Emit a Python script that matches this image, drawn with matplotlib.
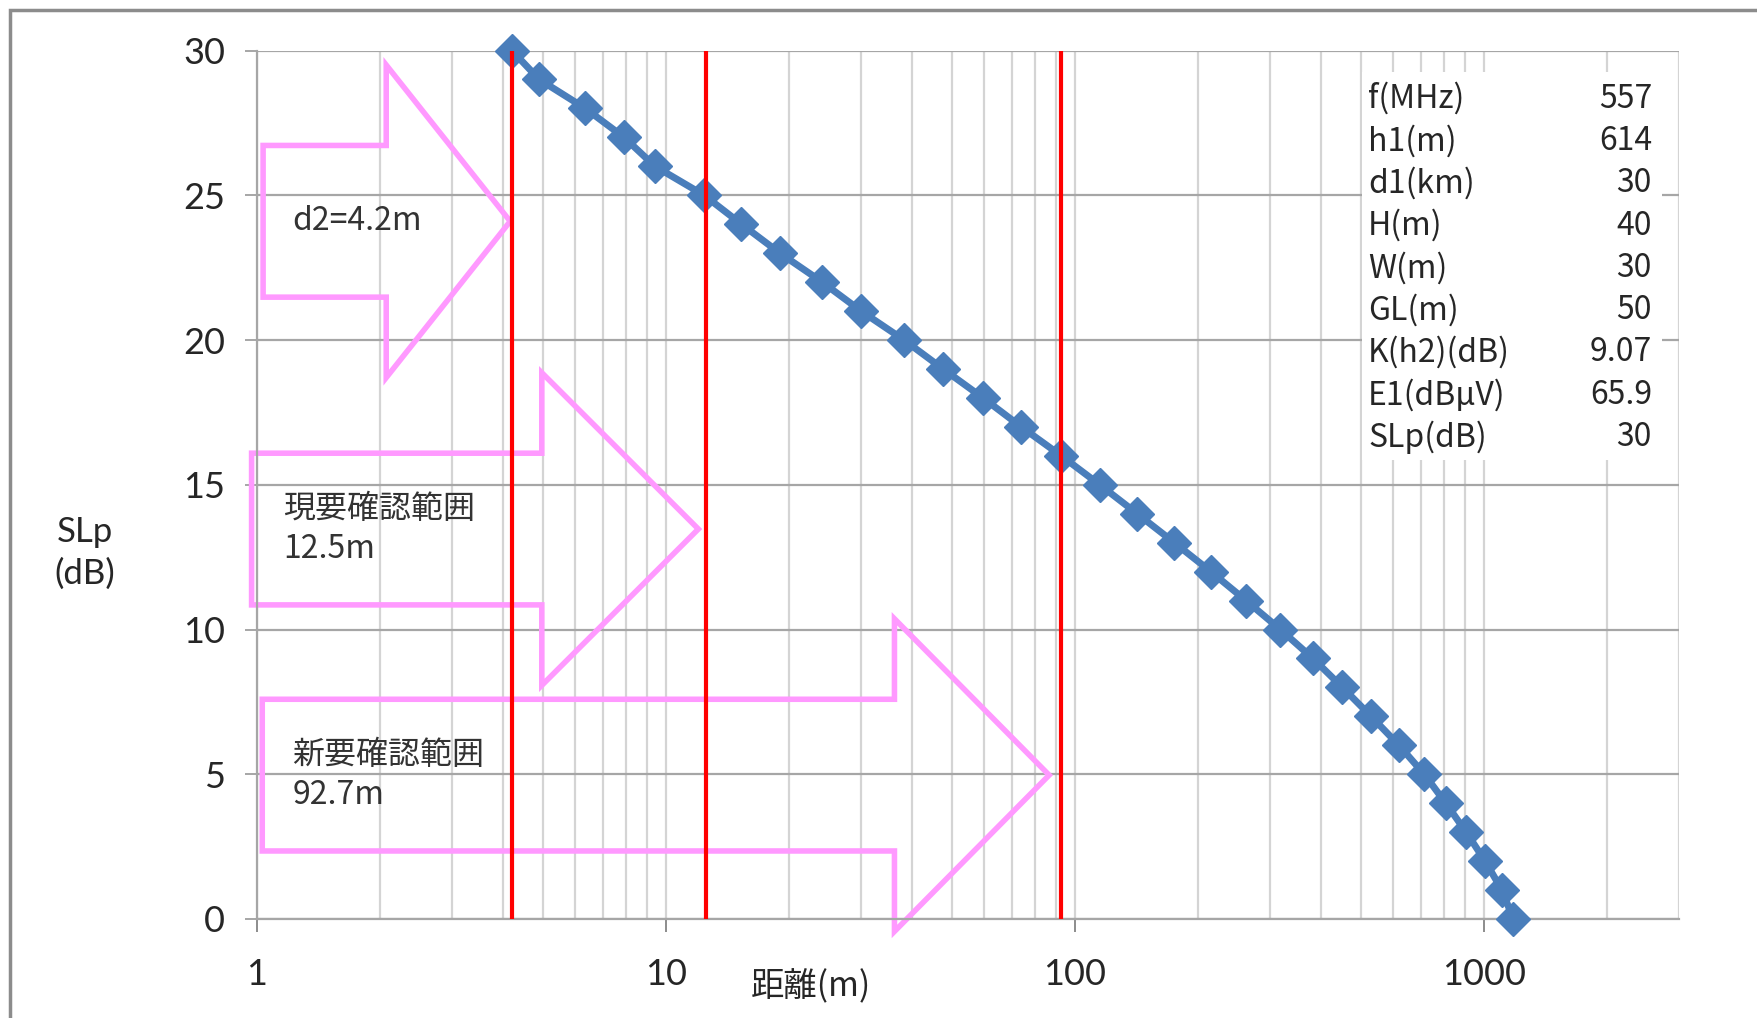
import numpy as np
import matplotlib
matplotlib.use("Agg")
import matplotlib.pyplot as plt
import matplotlib.patches as patches
from matplotlib.ticker import LogLocator, FixedLocator, NullFormatter

plt.rcParams['font.family'] = ['Lato', 'Noto Sans CJK JP', 'DejaVu Sans']

# グラフのデータ
slp_db = [30, 29, 28, 27, 26, 25, 24, 23, 22, 21, 20, 19, 18, 17, 16, 15,
          14, 13, 12, 11, 10, 9, 8, 7, 6, 5, 4, 3, 2, 1, 0]
distance_m = [4.2, 4.9, 6.35, 7.9, 9.4, 12.4, 15.3, 19.0, 24.1, 30.0, 38.2,
              47.6, 59.6, 73.9, 92.6, 115, 142, 175, 215, 262, 318, 382,
              451, 530, 620, 715, 807, 905, 1007, 1107, 1180]

# 赤線の位置
marker_lines = [4.2, 12.5, 92.7]

# 矢印（左端, 頭部開始, 先端, 中心y）とラベル
arrow_left = [1.035, 0.97, 1.03]
arrow_head = [2.07, 4.97, 36.2]
arrow_tip = [4.16, 12.0, 86.5]
arrow_center = [24.1, 13.47, 4.97]
arrow_labels = ["d2=4.2m", "現要確認範囲\n12.5m", "新要確認範囲\n92.7m"]
label_x = [1.22, 1.16, 1.22]

# 条件表
param_names = ["f(MHz)", "h1(m)", "d1(km)", "H(m)", "W(m)", "GL(m)",
               "K(h2)(dB)", "E1(dBμV)", "SLp(dB)"]
param_values = ["557", "614", "30", "40", "30", "50", "9.07", "65.9", "30"]

W, H = 1758, 1018
fig = plt.figure(figsize=(W / 100, H / 100), dpi=100)
ax = fig.add_axes([257 / W, 1 - 919 / H, (1679 - 257) / W, (919 - 50.5) / H])

# 外枠
fig.patches.append(patches.Rectangle((10 / W, -0.1), 1.2, 1 - 10 / H + 0.1,
                                     transform=fig.transFigure, fill=False,
                                     edgecolor='#8c8c8c', linewidth=2.5))

ax.set_xscale('log')
ax.set_xlim(1, 3000)
ax.set_ylim(0, 30)
ax.xaxis.set_major_locator(FixedLocator([1, 10, 100, 1000]))
ax.xaxis.set_major_formatter(matplotlib.ticker.FixedFormatter(["1", "10", "100", "1000"]))
ax.xaxis.set_minor_locator(LogLocator(base=10, subs=np.arange(2, 10), numticks=20))
ax.xaxis.set_minor_formatter(NullFormatter())
ax.set_yticks(range(0, 31, 5))

ax.set_axisbelow(True)
ax.grid(True, which='major', axis='y', color='#a6a6a6', linewidth=1.6)
ax.grid(True, which='both', axis='x', color='#d4d4d4', linewidth=1.6)
for side in ['top', 'right']:
    ax.spines[side].set_visible(False)
for side in ['left', 'bottom']:
    ax.spines[side].set_color('#a6a6a6')
    ax.spines[side].set_linewidth(1.6)

ax.tick_params(axis='x', which='major', direction='out', length=9, width=1.4,
               color='#8c8c8c', labelsize=26, pad=19, labelcolor='#262626')
ax.tick_params(axis='x', which='minor', length=0)
ax.tick_params(axis='y', direction='out', length=9, width=1.4,
               color='#a6a6a6', labelsize=26, pad=14, labelcolor='#262626')

# 右上の表の背景
ax.add_patch(patches.Rectangle((0.777, 0.5285), 0.211, 0.4465, transform=ax.transAxes,
                               facecolor='white', edgecolor='none', zorder=1))

# 矢印
shaft_half = 2.62
head_half = 5.4
for xl, xh, xt, yc in zip(arrow_left, arrow_head, arrow_tip, arrow_center):
    verts = [(xl, yc + shaft_half), (xh, yc + shaft_half), (xh, yc + head_half),
             (xt, yc), (xh, yc - head_half), (xh, yc - shaft_half),
             (xl, yc - shaft_half)]
    ax.add_patch(patches.Polygon(verts, closed=True, fill=False,
                                 edgecolor='#ff99ff', linewidth=4,
                                 joinstyle='miter', zorder=2, clip_on=False))

for lx, yc, txt in zip(label_x, arrow_center, arrow_labels):
    ax.text(lx, yc, txt, fontsize=23, color='#333333', va='center', ha='left',
            linespacing=1.3, family=['Noto Sans CJK JP', 'DejaVu Sans'], zorder=3)

# 系列
ax.plot(distance_m, slp_db, color='#4a7ebb', linewidth=5, marker='D',
        markersize=17, markerfacecolor='#4a7ebb', markeredgecolor='#4a7ebb',
        zorder=3, clip_on=False)

for xv in marker_lines:
    ax.axvline(xv, ymin=0, ymax=1, color='#ff0000', linewidth=3, zorder=4)

# 表
line_gap = 42.3
for i, (name, val) in enumerate(zip(param_names, param_values)):
    yy = 1 - (98.7 + i * line_gap) / H
    fig.text(1368 / W, yy, name, fontsize=23, color='#262626', va='center', ha='left',
             family=['Noto Sans CJK JP', 'DejaVu Sans'])
    fig.text(1652 / W, yy, val, fontsize=23, color='#262626', va='center', ha='right',
             family=['Noto Sans CJK JP', 'DejaVu Sans'])

# 軸ラベル
fig.text(811 / W, 1 - 987 / H, "距離(m)", fontsize=24, color='#262626',
         ha='center', va='center', family=['Noto Sans CJK JP', 'DejaVu Sans'])
fig.text(85 / W, 1 - 553 / H, "SLp\n(dB)", fontsize=25, color='#262626',
         ha='center', va='center', linespacing=1.35)

fig.savefig("out.png", dpi=100)
